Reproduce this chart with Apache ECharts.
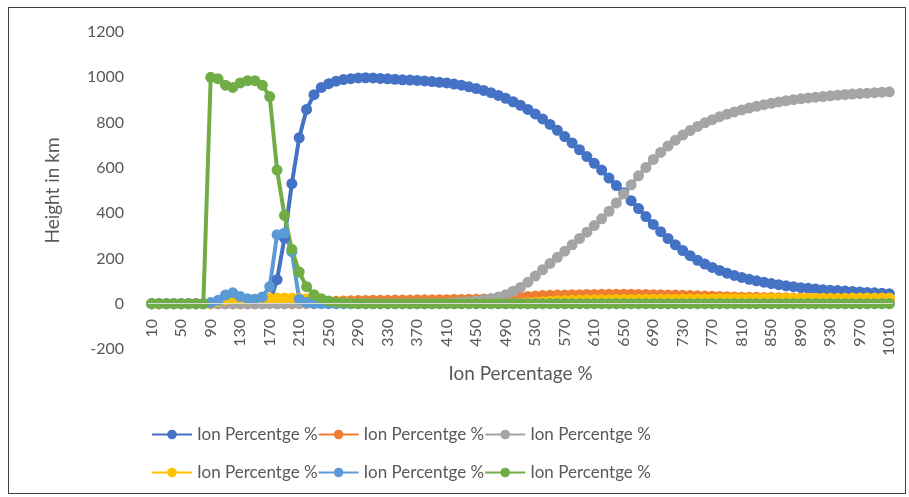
<!DOCTYPE html>
<html>
<head>
<meta charset="utf-8">
<script src="https://cdn.jsdelivr.net/npm/echarts@6/dist/echarts.min.js"></script>
<style>
  html, body { margin: 0; padding: 0; background: #fff; }
  #chart { position: absolute; left: 0; top: 0; width: 909px; height: 497px; }
  #frame { position: absolute; left: 8px; top: 7px; width: 896px; height: 485px; border: 1px solid #404040; pointer-events: none; }
</style>
</head>
<body>
<div id="chart"></div>
<div id="frame"></div>
<script>
// x categories: 10, 20, ... 1010
var categories = [];
for (var c = 10; c <= 1010; c += 10) categories.push(String(c));

var legendLabel = 'Ion Percentge %';
var seriesNames = ['s1', 's2', 's3', 's4', 's5', 's6'];
var colors = ['#4472C4', '#ED7D31', '#A5A5A5', '#FFC000', '#5B9BD5', '#70AD47'];

var blueVals = [
  0, 0, 0, 0, 0, 0, 0, 0, 0, 0, 0, 0, 0, 0, 0, 0,
  5, 106, 290, 530, 733, 858, 923, 955, 972, 983, 990, 994, 997, 998,
  997, 995, 993, 991, 989, 988, 986, 984, 981, 978,
  975, 970, 965, 958, 950, 942, 932, 920, 907, 892,
  876, 858, 838, 816, 792, 766, 738, 710, 680, 650,
  620, 590, 555, 522, 490, 455, 420, 385, 350, 318,
  288, 260, 235, 212, 192, 175, 160, 147, 135, 125,
  116, 108, 101, 95, 89, 84, 79, 75, 71, 68,
  65, 62, 60, 58, 56, 54, 52, 50, 48, 46, 44
];
var orangeVals = [
  0, 0, 0, 0, 0, 0, 0, 0, 0, 0, 0, 0, 0, 0, 0, 0, 0, 0, 0, 0,
  2, 4, 6, 8, 10, 11, 12, 13, 14, 14,
  15, 15, 15, 16, 16, 16, 17, 17, 17, 18,
  18, 19, 19, 20, 20, 21, 22, 23, 25, 27,
  30, 32, 34, 36, 37, 38, 39, 40, 40, 41,
  41, 42, 42, 42, 42, 42, 41, 41, 40, 40,
  39, 38, 37, 36, 35, 34, 33, 32, 31, 30,
  29, 28, 28, 27, 27, 26, 26, 25, 25, 24,
  24, 23, 23, 22, 22, 22, 21, 21, 21, 20, 20
];
var grayVals = [
  0, 0, 0, 0, 0, 0, 0, 0, 0, 0, 0, 0, 0, 0, 0, 0, 0, 0, 0, 0,
  0, 0, 0, 0, 0, 0, 0, 0, 0, 0, 0, 0, 0, 0, 0, 0, 0, 0, 0,
  2, 3, 5, 7, 10, 13, 17, 22, 30, 40,
  55, 72, 95, 122, 150, 178, 205, 232, 260, 288,
  316, 345, 375, 408, 445, 485, 525, 565, 602, 637,
  668, 697, 722, 745, 765, 783, 799, 813, 826, 837,
  847, 856, 864, 872, 879, 885, 891, 896, 901, 905,
  909, 912, 915, 918, 921, 924, 926, 928, 930, 932, 934, 936
];
var yellowVals = [
  0, 0, 0, 0, 0, 0, 0, 0,
  3, 10, 18, 22, 22, 20, 20, 22, 25, 25, 25, 25,
  24, 22, 18, 13, 9, 6, 4, 3, 2, 2,
  1, 1, 1, 1, 1, 1, 1, 1, 1, 1, 1, 1, 1, 1, 1, 1, 1, 1, 1,
  2, 3, 5, 7, 9, 11, 13, 14, 15, 16, 17,
  18, 18, 18, 19, 19, 19, 19, 20, 20, 20,
  20, 20, 21, 21, 21, 21, 21, 22, 22, 22,
  22, 22, 22, 23, 23, 23, 23, 23, 23, 24,
  24, 24, 24, 24, 24, 25, 25, 25, 25, 25, 25
];
var lightBlueVals = [
  0, 0, 0, 0, 0, 0, 0, 0,
  5, 15, 38, 48, 32, 22, 20, 30, 75, 305, 312, 230, 20, 6, 2, 1,
  0, 0, 0, 0, 0, 0, 0, 0, 0, 0, 0, 0, 0, 0, 0, 0, 0, 0, 0, 0,
  0, 0, 0, 0, 0, 0, 0, 0, 0, 0, 0, 0, 0, 0, 0, 0, 0, 0, 0, 0,
  0, 0, 0, 0, 0, 0, 0, 0, 0, 0, 0, 0, 0, 0, 0, 0, 0, 0, 0, 0,
  0, 0, 0, 0, 0, 0, 0, 0, 0, 0, 0, 0, 0, 0, 0, 0, 0
];
var greenVals = [
  0, 0, 0, 0, 0, 0, 0, 0,
  1000, 993, 965, 955, 975, 985, 985, 965, 915, 590, 390, 240,
  140, 75, 40, 22, 12, 7, 4, 2, 1,
  0, 0, 0, 0, 0, 0, 0, 0, 0, 0, 0, 0, 0, 0, 0, 0, 0, 0, 0, 0,
  0, 0, 0, 0, 0, 0, 0, 0, 0, 0, 0, 0, 0, 0, 0, 0, 0, 0, 0, 0,
  0, 0, 0, 0, 0, 0, 0, 0, 0, 0, 0, 0, 0, 0, 0, 0, 0, 0, 0, 0,
  0, 0, 0, 0, 0, 0, 0, 0, 0, 0, 0, 0
];
var allVals = [blueVals, orangeVals, grayVals, yellowVals, lightBlueVals, greenVals];

var font = 'Lato, "Open Sans", sans-serif';
var textColor = '#595959';

var myChart = echarts.init(document.getElementById('chart'), null, { renderer: 'canvas' });

var series = allVals.map(function (vals, i) {
  return {
    name: seriesNames[i],
    type: 'line',
    data: vals,
    symbol: 'circle',
    symbolSize: 11,
    showAllSymbol: true,
    animation: false,
    itemStyle: { color: colors[i] },
    lineStyle: { color: colors[i], width: 4 }
  };
});
// axis line through y = 0 (labels hang below it, like the original)
series[0].markLine = {
  silent: true,
  symbol: 'none',
  label: { show: false },
  lineStyle: { color: '#D9D9D9', width: 1, type: 'solid' },
  data: [{ yAxis: 0 }]
};

function makeLegend(names, top) {
  return {
    top: top,
    left: 146,
    data: names,
    itemWidth: 40,
    itemHeight: 12,
    itemGap: 0,
    formatter: function () { return legendLabel; },
    textStyle: { color: textColor, fontFamily: font, fontSize: 17 }
  };
}

myChart.setOption({
  backgroundColor: '#fff',
  color: colors,
  grid: { left: 148, right: 16, top: 32, bottom: 148 },
  legend: [
    makeLegend(seriesNames.slice(0, 3), 421),
    makeLegend(seriesNames.slice(3, 6), 459)
  ],
  xAxis: {
    type: 'category',
    boundaryGap: true,
    data: categories,
    name: 'Ion Percentage %',
    nameLocation: 'middle',
    nameGap: 15,
    nameMoveOverlap: false,
    nameTextStyle: { color: textColor, fontFamily: font, fontSize: 19 },
    axisLine: { show: false },
    axisTick: { show: false },
    axisLabel: {
      interval: 3,
      rotate: 90,
      color: textColor,
      fontFamily: font,
      fontSize: 16,
      margin: -30
    },
    splitLine: { show: false }
  },
  yAxis: {
    type: 'value',
    min: -200,
    max: 1200,
    interval: 200,
    name: 'Height in km',
    nameLocation: 'middle',
    nameGap: 86,
    nameTextStyle: { color: textColor, fontFamily: font, fontSize: 19 },
    axisLine: { show: false },
    axisTick: { show: false },
    axisLabel: {
      color: textColor,
      fontFamily: font,
      fontSize: 16,
      margin: 24,
      formatter: function (v) { return String(v); }
    },
    splitLine: { show: false }
  },
  series: series
});
</script>
</body>
</html>
